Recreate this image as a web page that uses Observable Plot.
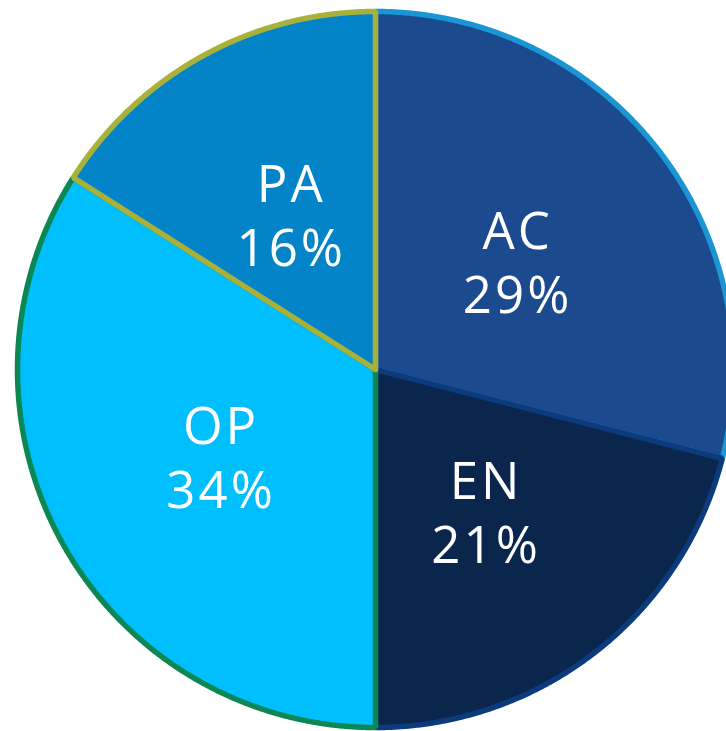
<!DOCTYPE html>
<html>
<head>
<meta charset="utf-8">
<script src="https://cdn.jsdelivr.net/npm/d3@7"></script>
<script src="https://cdn.jsdelivr.net/npm/@observablehq/plot@0.6"></script>
<style>
  html, body { margin: 0; padding: 0; background: #fff; }
  #chart svg text { letter-spacing: 3px; }
</style>
</head>
<body>
<div id="chart"></div>
<script>
// Data
const categories = ["AC", "EN", "OP", "PA"];
const values = [29, 21, 34, 16];
// Styles
const fillColors = ["#1b4a8e", "#0b264d", "#00bfff", "#0384c8"];
const strokeColors = ["#1a96d4", "#0b3b7c", "#0a8752", "#a9b13b"];

const W = 726, H = 731, cx = 375, cy = 369, R = 358;

const pie = d3.pie().sort(null).value(d => d.value);
const arcs = pie(categories.map((c, i) => ({cat: c, value: values[i], i})));

// Build slice polygons in unit coordinates (angle 0 at 12 o'clock, clockwise)
const slicePts = [];
arcs.forEach(a => {
  const n = Math.max(8, Math.ceil((a.endAngle - a.startAngle) / 0.005));
  slicePts.push({cat: a.data.cat, i: a.data.i, u: 0, v: 0});
  for (let k = 0; k <= n; k++) {
    const t = a.startAngle + (a.endAngle - a.startAngle) * k / n;
    slicePts.push({cat: a.data.cat, i: a.data.i, u: Math.sin(t), v: Math.cos(t)});
  }
  slicePts.push({cat: a.data.cat, i: a.data.i, u: 0, v: 0});
});

const labelR = 0.497;
const labels = arcs.map(a => {
  const m = (a.startAngle + a.endAngle) / 2;
  return {cat: a.data.cat, text: `${a.data.cat}\n${a.data.value}%`, u: labelR * Math.sin(m), v: labelR * Math.cos(m)};
});

const chart = Plot.plot({
  width: W,
  height: H,
  margin: 0,
  style: {background: "#fff", fontFamily: "'Open Sans', sans-serif"},
  x: {domain: [-cx / R, (W - cx) / R], range: [0, W], axis: null},
  y: {domain: [-(H - cy) / R, cy / R], range: [H, 0], axis: null},
  color: {domain: categories, range: fillColors},
  marks: [
    Plot.line(slicePts, {
      x: "u", y: "v", z: "cat",
      fill: "cat",
      stroke: d => strokeColors[d.i],
      strokeWidth: 5.5,
      strokeLinejoin: "miter",
      curve: "linear"
    }),
    Plot.text(labels, {
      x: "u", y: "v", text: "text",
      fill: "white",
      fontSize: 51,
      lineHeight: 1.26,
      dx: 1.5,
      textAnchor: "middle"
    })
  ]
});
document.getElementById("chart").appendChild(chart);
</script>
</body>
</html>
